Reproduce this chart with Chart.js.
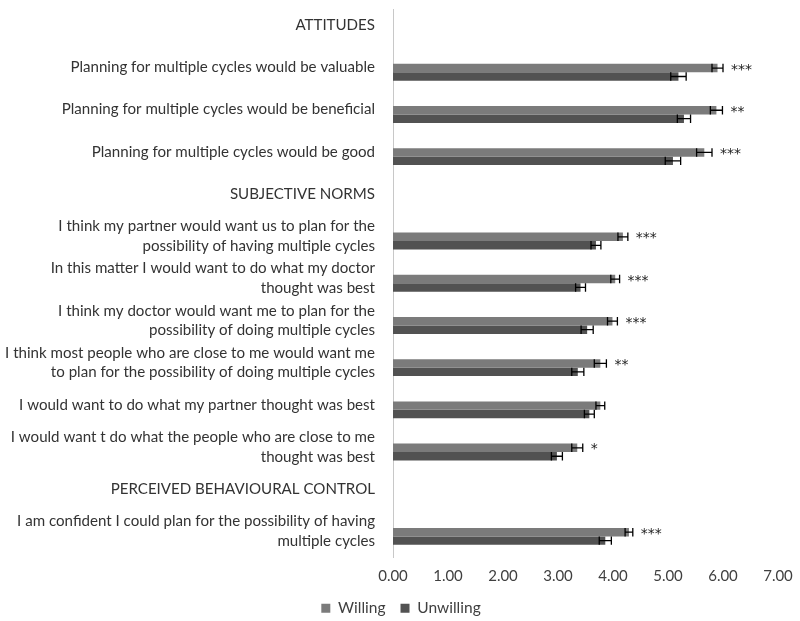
<!DOCTYPE html>
<html>
<head>
<meta charset="utf-8">
<script src="https://cdn.jsdelivr.net/npm/chart.js@4"></script>
<style>
  html, body { margin: 0; padding: 0; background: #fff; }
  #wrap { width: 800px; height: 621px; }
</style>
</head>
<body>
<div id="wrap"><canvas id="myChart" width="800" height="621"></canvas></div>
<script>
const categories = [
    'ATTITUDES',
    'Planning for multiple cycles would be valuable',
    'Planning for multiple cycles would be beneficial',
    'Planning for multiple cycles would be good',
    'SUBJECTIVE NORMS',
    ['I think my partner would want us to plan for the', 'possibility of having multiple cycles'],
    ['In this matter I would want to do what my doctor', 'thought was best'],
    ['I think my doctor would want me to plan for the', 'possibility of doing multiple cycles'],
    ['I think most people who are close to me would want me', 'to plan for the possibility of doing multiple cycles'],
    'I would want to do what my partner thought was best',
    ['I would want t do what the people who are close to me', 'thought was best'],
    'PERCEIVED BEHAVIOURAL CONTROL',
    ['I am confident I could plan for the possibility of having', 'multiple cycles']
];
const willing = [null, 5.90, 5.88, 5.66, null, 4.18, 4.04, 3.99, 3.77, 3.77, 3.35, null, 4.29];
const unwilling = [null, 5.19, 5.29, 5.09, null, 3.69, 3.41, 3.53, 3.36, 3.57, 2.98, null, 3.86];
const willingErr = [null, 0.10, 0.11, 0.14, null, 0.09, 0.08, 0.09, 0.11, 0.08, 0.10, null, 0.07];
const unwillingErr = [null, 0.14, 0.12, 0.14, null, 0.09, 0.09, 0.11, 0.11, 0.09, 0.10, null, 0.11];
const stars = ['', '***', '**', '***', '', '***', '***', '***', '**', '', '*', '', '***'];
const xTicks = [0, 1, 2, 3, 4, 5, 6, 7];

const errors = [willingErr, unwillingErr];

// error bars + significance stars
const errorBarPlugin = {
    id: 'errorBars',
    afterLayout(chart) {
        // legend sits a little right of centre in the original
        if (chart.legend) {
            chart.legend.left += 12;
            chart.legend.right += 12;
        }
    },
    afterDatasetsDraw(chart) {
        const ctx = chart.ctx;
        const xs = chart.scales.x;
        ctx.save();
        ctx.strokeStyle = '#000';
        ctx.lineWidth = 1.3;
        chart.data.datasets.forEach(function (ds, d) {
            const meta = chart.getDatasetMeta(d);
            meta.data.forEach(function (bar, i) {
                const v = ds.data[i];
                const e = errors[d][i];
                if (v == null || e == null) return;
                const x1 = xs.getPixelForValue(v - e);
                const x2 = xs.getPixelForValue(v + e);
                const y = bar.y;
                const h = bar.height / 2;
                ctx.beginPath();
                ctx.moveTo(x1, y); ctx.lineTo(x2, y);
                ctx.moveTo(x1, y - h); ctx.lineTo(x1, y + h);
                ctx.moveTo(x2, y - h); ctx.lineTo(x2, y + h);
                ctx.stroke();
                if (d === 0 && stars[i]) {
                    ctx.fillStyle = '#222';
                    ctx.font = '14px "DejaVu Sans"';
                    ctx.textBaseline = 'middle';
                    ctx.textAlign = 'left';
                    ctx.fillText(stars[i], x2 + 8, y + 2);
                }
            });
        });
        ctx.restore();
    }
};

const data = {
    labels: categories,
    datasets: [{
        label: 'Willing',
        data: willing,
        backgroundColor: '#7b7b7b',
        borderWidth: 0
    }, {
        label: 'Unwilling',
        data: unwilling,
        backgroundColor: '#525252',
        borderWidth: 0
    }]
};

const config = {
    type: 'bar',
    data: data,
    plugins: [errorBarPlugin],
    options: {
        indexAxis: 'y',
        responsive: false,
        animation: false,
        categoryPercentage: 0.4,
        barPercentage: 1.0,
        layout: { padding: { top: 9, right: 22, bottom: -5, left: 0 } },
        plugins: {
            tooltip: { enabled: false },
            legend: {
                position: 'bottom',
                labels: {
                    boxWidth: 9,
                    boxHeight: 9,
                    padding: 15,
                    color: '#404040',
                    font: { family: 'Lato', size: 15.5 }
                }
            }
        },
        scales: {
            x: {
                min: xTicks[0],
                max: xTicks[xTicks.length - 1],
                afterBuildTicks: function (scale) {
                    scale.ticks = xTicks.map(function (v) { return { value: v }; });
                },
                afterFit: function (scale) {
                    scale.paddingLeft = 0;
                    scale.paddingRight = 0;
                    scale.height = 28;
                },
                grid: { display: false, drawTicks: false },
                border: { display: false },
                ticks: {
                    padding: 10,
                    color: '#404040',
                    font: { family: 'Lato', size: 15 },
                    callback: function (v) { return Number(v).toFixed(2); }
                }
            },
            y: {
                afterFit: function (scale) {
                    scale.width = 393;
                    scale.paddingTop = 0;
                    scale.paddingBottom = 0;
                },
                grid: { display: false, drawTicks: false },
                border: { display: true, color: '#c8c8c8', width: 1 },
                ticks: {
                    padding: 18,
                    labelOffset: -5,
                    color: '#333',
                    font: { family: 'Lato', size: 15.1, lineHeight: 1.3 },
                    autoSkip: false
                }
            }
        }
    }
};

const myChart = new Chart(document.getElementById('myChart'), config);
</script>
</body>
</html>
